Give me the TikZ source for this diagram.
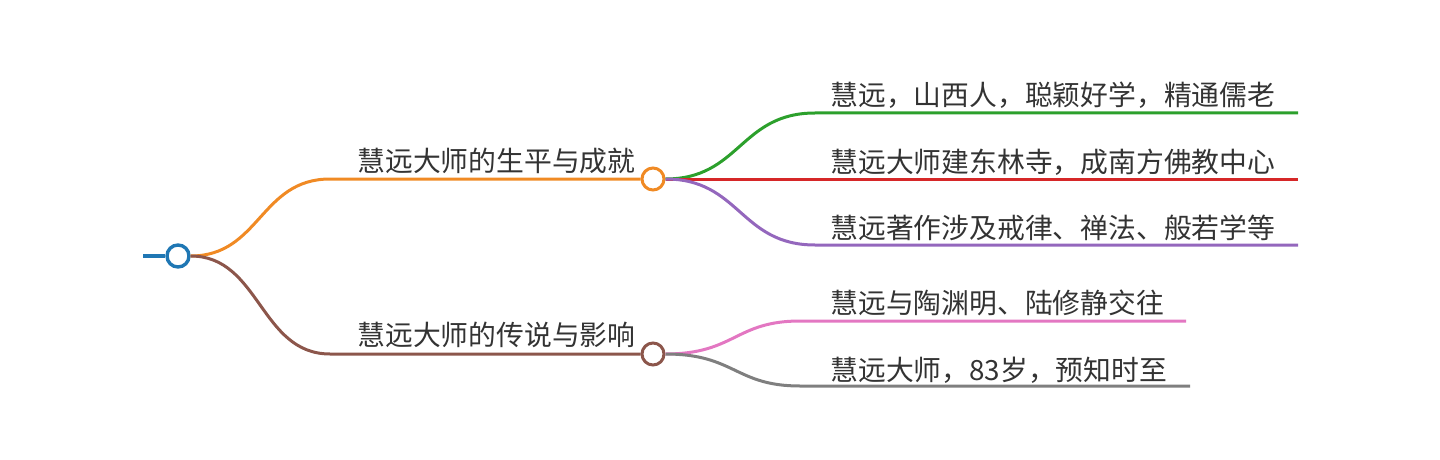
\documentclass[tikz,border=0pt]{standalone}
\usepackage{fontspec}
\newfontfamily\cjk{Noto Sans CJK SC}
\usetikzlibrary{positioning}
\definecolor{bluec}{HTML}{1F77B4}
\definecolor{orgc}{HTML}{F08A24}
\definecolor{grnc}{HTML}{2CA02C}
\definecolor{redc}{HTML}{D62728}
\definecolor{purc}{HTML}{9467BD}
\definecolor{brnc}{HTML}{8C564B}
\definecolor{pnkc}{HTML}{E377C2}
\definecolor{gryc}{HTML}{7F7F7F}
\definecolor{txtc}{HTML}{333333}
\tikzset{
  br/.style={line width=1.5pt},
  dot/.style={circle,draw,line width=1.5pt,fill=white,minimum size=11pt,inner sep=0pt},
  lbl/.style={anchor=west,inner sep=0pt,text=txtc,font=\cjk\fontsize{13.9pt}{16pt}\selectfont}
}

\begin{document}
\begin{tikzpicture}[x=0.5pt,y=-0.5pt]
\useasboundingbox (0,0) rectangle (1440,460);
% root and first level
\coordinate (stub) at (143,256);
\node[dot,draw=bluec,line width=1.7pt] (root) at (178,256) {};
\node[dot,draw=orgc] (life) at (653,179) {};
\node[dot,draw=brnc] (lgd) at (653,354) {};
\node[lbl] (lifet) at (357,161) {慧远大师的生平与成就};
\node[lbl] (lgdt) at (357,335) {慧远大师的传说与影响};
\draw[br,bluec,line width=1.9pt] (stub) -- (root.west);
\draw[br,orgc] (root.east) .. controls (260,256) and (260,179) .. (330,179) -- (life.west);
\draw[br,brnc] (root.east) .. controls (260,256) and (260,354) .. (330,354) -- (lgd.west);
% second level
\node[lbl] (a1) at (830,95) {慧远，山西人，聪颖好学，精通儒老};
\node[lbl] (a2) at (830,162) {慧远大师建东林寺，成南方佛教中心};
\node[lbl] (a3) at (830,228) {慧远著作涉及戒律、禅法、般若学等};
\node[lbl] (b1) at (830,303) {慧远与陶渊明、陆修静交往};
\node[lbl] (b2) at (830,370) {慧远大师，83岁，预知时至};
\coordinate (a1e) at (1298,113);
\coordinate (a2e) at (1298,179);
\coordinate (a3e) at (1298,245);
\coordinate (b1e) at (1186,321);
\coordinate (b2e) at (1190,386);
\draw[br,grnc] (life.east) .. controls (740,179) and (740,113) .. (815,113) -- (a1e);
\draw[br,redc] (life.east) -- (a2e);
\draw[br,purc] (life.east) .. controls (740,179) and (740,245) .. (815,245) -- (a3e);
\draw[br,pnkc] (lgd.east) .. controls (735,354) and (735,321) .. (800,321) -- (b1e);
\draw[br,gryc] (lgd.east) .. controls (735,354) and (735,386) .. (800,386) -- (b2e);
\end{tikzpicture}
\end{document}
